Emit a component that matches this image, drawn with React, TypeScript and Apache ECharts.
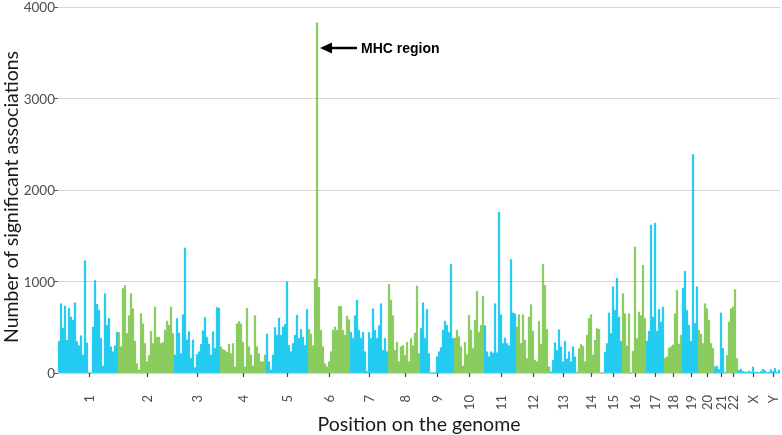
import React, { useEffect, useRef } from "react";
import * as echarts from "echarts";

const chromosomes = ["1","2","3","4","5","6","7","8","9","10","11","12","13","14","15","16","17","18","19","20","21","22","X","Y"];

const chr1 = [350, 760, 490, 735, 360, 710, 615, 580, 770, 345, 300, 410, 200, 1230, 330, 0, 0, 505, 1015, 755, 690, 380, 80, 870, 525, 600, 290, 235, 300, 450];
const chr2 = [445, 290, 925, 960, 435, 630, 870, 705, 350, 105, 35, 650, 540, 325, 125, 195, 460, 325, 725, 395, 395, 325, 340, 470, 570, 525, 725, 435];
const chr3 = [200, 600, 440, 215, 640, 1370, 365, 455, 165, 365, 60, 205, 235, 315, 465, 610, 395, 320, 200, 455, 270, 720, 710];
const chr4 = [290, 260, 250, 230, 320, 215, 325, 70, 540, 565, 540, 340, 70, 710, 290, 200, 80, 630, 290, 215, 125, 125, 200];
const chr5 = [430, 125, 35, 200, 500, 415, 605, 415, 505, 535, 1000, 305, 235, 325, 415, 635, 380, 480, 395, 305, 700];
const chr6 = [480, 430, 300, 1030, 3830, 940, 470, 290, 105, 70, 125, 235, 470, 505, 470, 730, 730, 470, 415, 625, 585];
const chr7 = [450, 380, 630, 800, 470, 380, 450, 235, 20, 445, 380, 705, 470, 380, 520, 760, 250, 380, 235];
const chr8 = [970, 800, 630, 250, 340, 125, 290, 305, 195, 340, 125, 380, 300, 440, 955, 215];
const chr9 = [490, 770, 380, 700, 215, 0, 0, 0, 180, 235, 280, 470, 570, 525, 445, 1190, 380];
const chr10 = [385, 470, 400, 290, 80, 340, 205, 635, 470, 270, 580, 895, 450, 525, 845];
const chr11 = [520, 235, 180, 235, 220, 760, 225, 1760, 640, 325, 385, 325, 300, 1245, 660, 650];
const chr12 = [505, 640, 325, 640, 360, 160, 615, 750, 460, 140, 125, 570, 315, 1190, 960, 480, 70];
const chr13 = [15, 140, 335, 250, 475, 290, 125, 350, 155, 235, 125, 290, 180];
const chr14 = [15, 270, 315, 295, 125, 415, 600, 640, 200, 360, 490, 480, 0, 0];
const chr15 = [230, 325, 660, 435, 945, 690, 1040, 615, 350];
const chr16 = [870, 650, 300, 650, 0, 240, 1380, 380, 670, 630, 1180, 600];
const chr17 = [350, 460, 1620, 615, 1640, 460, 700, 560, 725];
const chr18 = [165, 180, 275, 290, 310, 650, 905, 320, 415];
const chr19 = [930, 1115, 690, 525, 350, 2390, 545, 945];
const chr20 = [470, 430, 325, 760, 705, 580, 325, 270];
const chr21 = [70, 80, 40, 660, 270, 10];
const chr22 = [195, 560, 705, 725, 915, 160];
const chrX = [30, 45, 20, 15, 10, 25, 15, 70, 10, 15, 5, 20, 45, 30];
const chrY = [10, 15, 40, 20, 55, 10, 35];

const chromValues = [chr1, chr2, chr3, chr4, chr5, chr6, chr7, chr8, chr9, chr10, chr11, chr12, chr13, chr14, chr15, chr16, chr17, chr18, chr19, chr20, chr21, chr22, chrX, chrY];

const yTicks = [0, 1000, 2000, 3000, 4000];

const CYAN = "#00C3EF";
const GREEN = "#77C444";
const FONT = "Lato, 'DejaVu Sans', sans-serif";

export default function App() {
  const ref = useRef<HTMLDivElement>(null);
  useEffect(() => {
    if (!ref.current) return;
    const chart = echarts.init(ref.current, null, { renderer: "svg" });

    const categories: string[] = [];
    const data: any[] = [];
    const labelIdx = new Map<number, string>();
    chromValues.forEach((vals, ci) => {
      const color = ci < 22 ? (ci % 2 === 0 ? CYAN : GREEN) : CYAN;
      const start = categories.length;
      labelIdx.set(start + Math.floor(vals.length / 2), chromosomes[ci]);
      vals.forEach((v, i) => {
        categories.push(chromosomes[ci] + ":" + i);
        data.push({ value: v, itemStyle: { color, borderColor: color, borderWidth: 0.6 } });
      });
    });

    chart.setOption({
      animation: false,
      grid: { left: 58, right: 2, top: 7, bottom: 62, containLabel: false, outerBoundsMode: "none" },
      xAxis: {
        type: "category",
        data: categories,
        offset: 16,
        axisLine: { show: true, lineStyle: { color: "rgba(0,0,0,0)" } },
        axisTick: {
          show: true,
          alignWithLabel: true,
          length: 4,
          interval: (index: number) => labelIdx.has(index),
          lineStyle: { color: "#444", width: 1.2 },
        },
        axisLabel: {
          interval: (index: number) => labelIdx.has(index),
          formatter: (_v: string, index: number) => labelIdx.get(index) || "",
          rotate: 90,
          margin: 6,
          fontSize: 13,
          color: "#4D4D4D",
          fontFamily: FONT,
        },
        splitLine: { show: false },
        name: "Position on the genome",
        nameLocation: "middle",
        nameGap: 24,
        nameMoveOverlap: false,
        nameTextStyle: { fontSize: 19.5, color: "#1A1A1A", fontFamily: FONT },
      },
      yAxis: {
        type: "value",
        min: yTicks[0],
        max: yTicks[yTicks.length - 1],
        interval: 1000,
        axisLine: { show: false },
        axisTick: { show: true, length: 4, lineStyle: { color: "#555", width: 1 } },
        axisLabel: {
          margin: 3,
          fontSize: 13.5,
          color: "#4D4D4D",
          fontFamily: FONT,
          formatter: (v: number) => String(v),
        },
        splitLine: { show: true, lineStyle: { color: "#D6D6D6", width: 1 } },
        name: "Number of significant associations",
        nameLocation: "middle",
        nameGap: 38,
        nameMoveOverlap: false,
        nameTextStyle: { fontSize: 19.5, color: "#1A1A1A", fontFamily: FONT, padding: [0, 14, 0, 0] },
      },
      series: [
        {
          type: "bar",
          data,
          barCategoryGap: "0%",
          barGap: "0%",
        },
      ],
      graphic: [
        {
          type: "polygon",
          shape: { points: [[320, 48], [332, 42.5], [332, 53.5]] },
          style: { fill: "#000" },
        },
        {
          type: "line",
          shape: { x1: 330, y1: 48, x2: 357, y2: 48 },
          style: { stroke: "#000", lineWidth: 2.5 },
        },
        {
          type: "text",
          x: 361,
          y: 48,
          style: {
            text: "MHC region",
            fontSize: 14,
            fontWeight: "bold",
            fontFamily: "'Liberation Sans', Arial, sans-serif",
            fill: "#000",
            verticalAlign: "middle",
            align: "left",
          },
        },
      ],
    });
    return () => chart.dispose();
  }, []);
  return <div ref={ref} style={{ position: "fixed", left: 0, top: 0, width: 782, height: 435 }} />;
}
